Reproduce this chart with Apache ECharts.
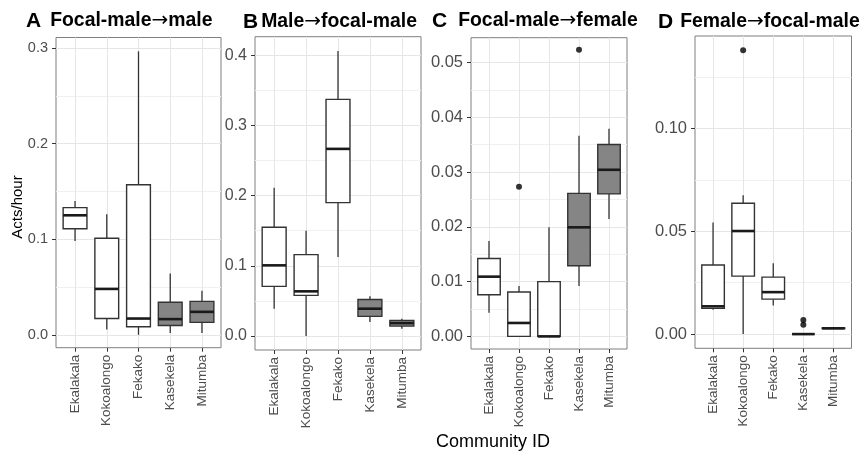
<!DOCTYPE html>
<html><head><meta charset="utf-8">
<script src="https://cdn.jsdelivr.net/npm/echarts@6/dist/echarts.min.js"></script>
<style>html,body{margin:0;padding:0;background:#fff}#c{width:862px;height:452px}</style>
</head><body><div id="c"></div>
<script>
// ---------------- data ----------------
const communities = ['Ekalakala', 'Kokoalongo', 'Fekako', 'Kasekela', 'Mitumba'];
const fillGroup = [0, 0, 0, 1, 1];

// five-number summaries per community: [lower whisker, Q1, median, Q3, upper whisker]
const focalMaleToMale = [
  [0.098, 0.111, 0.125, 0.133, 0.140],
  [0.0055, 0.017, 0.048, 0.101, 0.126],
  [0.0, 0.0084, 0.017, 0.157, 0.2965],
  [0.002, 0.0097, 0.0164, 0.034, 0.064],
  [0.002, 0.013, 0.024, 0.035, 0.046]
];
const focalMaleToMaleOutliers = [];

const maleToFocalMale = [
  [0.039, 0.0708, 0.1007, 0.155, 0.211],
  [0.0, 0.058, 0.0637, 0.116, 0.150],
  [0.1126, 0.190, 0.2665, 0.337, 0.406],
  [0.020, 0.028, 0.039, 0.052, 0.0566],
  [0.0105, 0.0142, 0.0185, 0.0224, 0.0248]
];
const maleToFocalMaleOutliers = [];

const focalMaleToFemale = [
  [0.0043, 0.0076, 0.0109, 0.0142, 0.0174],
  [0.0, 0.0, 0.00245, 0.0081, 0.0092],
  [0.0, 0.0, 0.0, 0.0100, 0.0199],
  [0.0092, 0.0129, 0.0199, 0.0261, 0.0366],
  [0.0214, 0.0260, 0.0304, 0.0350, 0.0379]
];
const focalMaleToFemaleOutliers = [[1, 0.0273], [3, 0.0523]];

const femaleToFocalMale = [
  [0.0118, 0.0125, 0.0135, 0.0336, 0.0542],
  [0.0, 0.0282, 0.0501, 0.0636, 0.0675],
  [0.0139, 0.0170, 0.0204, 0.0277, 0.0345],
  [0.0, 0.0, 0.0, 0.0, 0.0],
  [0.0027, 0.0027, 0.0028, 0.0030, 0.0030]
];
const femaleToFocalMaleOutliers = [[1, 0.138], [3, 0.0068], [3, 0.0046]];

const ticksA = [0, 0.1, 0.2, 0.3];
const ticksB = [0, 0.1, 0.2, 0.3, 0.4];
const ticksC = [0, 0.01, 0.02, 0.03, 0.04, 0.05];
const ticksD = [0, 0.05, 0.10];

const panelLetters = ['A', 'B', 'C', 'D'];
const panelTitles = ['Focal-male→male', 'Male→focal-male', 'Focal-male→female', 'Female→focal-male'];
const yAxisTitle = 'Acts/hour';
const xAxisTitle = 'Community ID';

// ---------------- layout / style ----------------
const FONT = '"Liberation Sans", Arial, Helvetica, sans-serif';
const panels = [
  {box: focalMaleToMale, out: focalMaleToMaleOutliers, ticks: ticksA, dec: 1, iv: 0.1,
   L: 56, R: 221, T: 37.5, B: 347.7, min: -0.0135, max: 0.311, fs: 14.5, tl: 26, tt: 8, gap: 9},
  {box: maleToFocalMale, out: maleToFocalMaleOutliers, ticks: ticksB, dec: 1, iv: 0.1,
   L: 255, R: 421, T: 36.7, B: 350, min: -0.0198, max: 0.4262, fs: 16, tl: 243, tt: 9, gap: 3},
  {box: focalMaleToFemale, out: focalMaleToFemaleOutliers, ticks: ticksC, dec: 2, iv: 0.01,
   L: 471, R: 627, T: 37.7, B: 349, min: -0.0023, max: 0.0545, fs: 16.5, tl: 432, tt: 8, gap: 11},
  {box: femaleToFocalMale, out: femaleToFocalMaleOutliers, ticks: ticksD, dec: 2, iv: 0.05,
   L: 695, R: 851.5, T: 36, B: 348.3, min: -0.0069, max: 0.1449, fs: 16.5, tl: 658, tt: 9, gap: 7}
];

function renderBox(params, api) {
  const x = api.value(0);
  const p = i => api.coord([x, api.value(i)]);
  const lo = p(1), q1 = p(2), md = p(3), q3 = p(4), hi = p(5);
  const bw = api.size([1, 0])[0] * 0.75;
  const cx = lo[0];
  const fill = api.value(6) === 1 ? '#858585' : '#ffffff';
  const stroke = '#333333';
  return {
    type: 'group',
    children: [
      {type: 'line', shape: {x1: cx, y1: hi[1], x2: cx, y2: q3[1]}, style: {stroke, lineWidth: 1.3}},
      {type: 'line', shape: {x1: cx, y1: q1[1], x2: cx, y2: lo[1]}, style: {stroke, lineWidth: 1.3}},
      {type: 'rect', shape: {x: cx - bw / 2, y: q3[1], width: bw, height: q1[1] - q3[1]},
       style: {fill, stroke, lineWidth: 1.4}},
      {type: 'line', shape: {x1: cx - bw / 2, y1: md[1], x2: cx + bw / 2, y2: md[1]},
       style: {stroke: '#1a1a1a', lineWidth: 2.6}}
    ]
  };
}

function richTitle(gap) {
  return {
    l: {fontSize: 21, fontWeight: 'bold', color: '#000', fontFamily: FONT, lineHeight: 26, padding: [0, gap, 0, 0]},
    t: {fontSize: 19.4, fontWeight: 'bold', color: '#000', fontFamily: FONT, lineHeight: 26},
    a: {fontSize: 20, fontWeight: 'normal', color: '#000', fontFamily: '"DejaVu Sans", sans-serif', lineHeight: 26}
  };
}

const grid = [], xAxis = [], yAxis = [], series = [], title = [];
panels.forEach((pn, k) => {
  const u = (pn.R - pn.L) / 5.2;
  const H = pn.B - pn.T;
  grid.push({left: pn.L, top: pn.T, width: pn.R - pn.L, height: H, show: true,
    borderColor: '#7f7f7f', borderWidth: 1, backgroundColor: 'transparent', outerBoundsMode: 'none', containLabel: false});
  grid.push({left: pn.L + 0.6 * u, top: pn.T, width: (pn.R - pn.L) - 1.2 * u, height: H,
    show: false, outerBoundsMode: 'none', containLabel: false});
  // outer grid axes
  xAxis.push({gridIndex: 2 * k, type: 'value', min: 0, max: 1, show: false});
  yAxis.push({gridIndex: 2 * k, type: 'value', min: pn.min, max: pn.max,
    minInterval: pn.iv, maxInterval: pn.iv, splitNumber: Math.round((pn.max - pn.min) / pn.iv),
    axisLine: {show: false, onZero: false},
    axisTick: {show: true, length: 4, lineStyle: {color: '#333333', width: 1}, customValues: pn.ticks},
    axisLabel: {customValues: pn.ticks, formatter: v => Number(v).toFixed(pn.dec),
      color: '#4d4d4d', fontSize: pn.fs, fontFamily: FONT, margin: 8},
    splitLine: {show: true, lineStyle: {color: '#e6e6e6', width: 1}},
    minorTick: {show: false, splitNumber: 2},
    minorSplitLine: {show: true, lineStyle: {color: '#f0f0f0', width: 1}}
  });
  // inner grid axes
  xAxis.push({gridIndex: 2 * k + 1, type: 'category', data: communities, boundaryGap: false,
    position: 'bottom',
    axisLine: {show: false, onZero: false},
    axisTick: {show: true, length: 4, interval: 0, lineStyle: {color: '#333333', width: 1}},
    axisLabel: {interval: 0, rotate: 90, color: '#4d4d4d', fontSize: 13.5, fontFamily: FONT, margin: 7},
    splitLine: {show: true, interval: 0, lineStyle: {color: '#e6e6e6', width: 1}}
  });
  yAxis.push({gridIndex: 2 * k + 1, type: 'value', min: pn.min, max: pn.max, show: false,
    axisLine: {onZero: false}, splitLine: {show: false}});

  series.push({
    type: 'custom', xAxisIndex: 2 * k + 1, yAxisIndex: 2 * k + 1,
    renderItem: renderBox, encode: {x: 0, y: [1, 2, 3, 4, 5]}, clip: false,
    data: pn.box.map((s, i) => [i, s[0], s[1], s[2], s[3], s[4], fillGroup[i]]),
    z: 3
  });
  series.push({
    type: 'scatter', xAxisIndex: 2 * k + 1, yAxisIndex: 2 * k + 1,
    symbol: 'circle', symbolSize: 6, itemStyle: {color: '#000000'},
    data: pn.out, z: 4
  });
  const parts = panelTitles[k].split('→');
  title.push({
    left: pn.tl, top: pn.tt,
    text: '{l|' + panelLetters[k] + '}{t|' + parts[0] + '}{a|→}{t|' + parts[1] + '}',
    textStyle: {rich: richTitle(pn.gap)},
    padding: 0
  });
});

const chart = echarts.init(document.getElementById('c'), null, {renderer: 'canvas'});
chart.setOption({
  animation: false,
  backgroundColor: '#ffffff',
  title, grid, xAxis, yAxis, series,
  graphic: [
    {type: 'text', x: 18, y: 207, rotation: Math.PI / 2,
     style: {text: yAxisTitle, fontSize: 15, fontFamily: FONT, fill: '#000', align: 'center', verticalAlign: 'middle'}},
    {type: 'text', x: 493, y: 442,
     style: {text: xAxisTitle, fontSize: 18, fontFamily: FONT, fill: '#000', align: 'center', verticalAlign: 'middle'}}
  ]
});
</script></body></html>
